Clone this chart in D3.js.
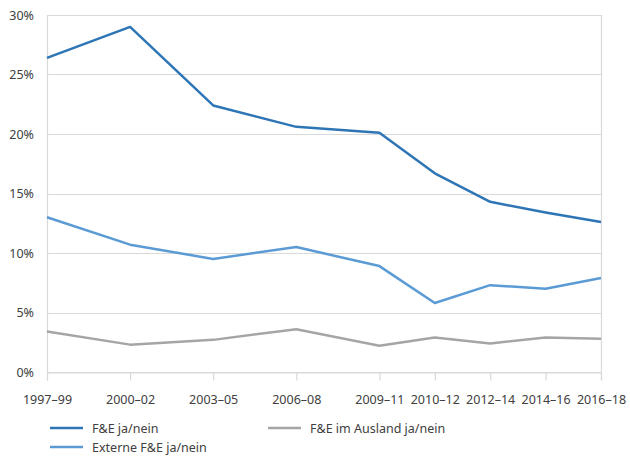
<!DOCTYPE html>
<html><head><meta charset="utf-8">
<script src="https://cdn.jsdelivr.net/npm/d3@7"></script>
<style>
body{margin:0;background:#fff;}
text{font-family:"Noto Sans","Open Sans",sans-serif;fill:#404040;}
</style></head>
<body><svg id="c" width="630" height="457"></svg>
<script>
const categories = ["1997–99","2000–02","2003–05","2006–08","2009–11","2010–12","2012–14","2014–16","2016–18"];
const axisYears = [1997,2000,2003,2006,2009,2011,2013,2015,2017];
const yTicks = [0,5,10,15,20,25,30];
const seriesNames = ["F&E ja/nein","Externe F&E ja/nein","F&E im Ausland ja/nein"];
const fueValues = [26.4,29.0,22.4,20.6,20.1,16.7,14.3,13.4,12.6];
const externValues = [13.0,10.7,9.5,10.5,8.9,5.8,7.3,7.0,7.9];
const auslandValues = [3.4,2.3,2.7,3.6,2.2,2.9,2.4,2.9,2.8];
const colors = ["#2e75b6","#5b9bd5","#a5a5a5"];

const svg = d3.select("#c");
const m = {l:47,r:601,t:15,b:372};
const x = d3.scaleLinear().domain([axisYears[0],axisYears[axisYears.length-1]]).range([m.l,m.r]);
const y = d3.scaleLinear().domain([0,30]).range([m.b,m.t]);

// grid
svg.append("g").selectAll("line").data(yTicks).join("line")
  .attr("x1",m.l).attr("x2",m.r)
  .attr("y1",d=>Math.round(y(d))+0.5).attr("y2",d=>Math.round(y(d))+0.5)
  .attr("stroke","#d9d9d9").attr("stroke-width",1.2);
// left & right border
[m.l,m.r].forEach(px=>svg.append("line").attr("x1",px+0.5).attr("x2",px+0.5)
  .attr("y1",m.t).attr("y2",m.b).attr("stroke","#d9d9d9").attr("stroke-width",1.2));

// y labels
svg.append("g").selectAll("text").data(yTicks).join("text")
  .attr("x",34).attr("y",d=>y(d)+4.5).attr("text-anchor","end")
  .attr("font-size",12.5).text(d=>d+"%");

// x axis ticks
const xAxis = d3.axisBottom(x).tickValues(axisYears).tickSize(8).tickFormat((d,i)=>categories[i]);
const gx = svg.append("g").attr("transform",`translate(0,${m.b+0.5})`).call(xAxis);
gx.select(".domain").attr("stroke","#d9d9d9").attr("stroke-width",1.2);
gx.selectAll(".tick line").attr("stroke","#d9d9d9").attr("stroke-width",1.2);
gx.selectAll(".tick text").attr("font-size",12.5).attr("dy","1.6em")
  .attr("font-family","Noto Sans, Open Sans, sans-serif").attr("fill","#404040");

const line = d3.line().x((d,i)=>x(axisYears[i])).y(d=>y(d));
const allSeries = [auslandValues, externValues, fueValues];
const allColors = [colors[2],colors[1],colors[0]];
allSeries.forEach((s,k)=>{
  svg.append("path").datum(s).attr("d",line).attr("fill","none")
    .attr("stroke",allColors[k]).attr("stroke-width",2.5).attr("stroke-linejoin","round");
});

// legend
const legendPos = [[50,428],[50,447],[268,428]];
seriesNames.forEach((n,i)=>{
  const [lx,ly] = legendPos[i];
  svg.append("line").attr("x1",lx).attr("x2",lx+33).attr("y1",ly).attr("y2",ly)
    .attr("stroke",colors[i]).attr("stroke-width",2.5);
  svg.append("text").attr("x",lx+42).attr("y",ly+4.5).attr("font-size",12.5).text(n);
});
</script></body></html>
